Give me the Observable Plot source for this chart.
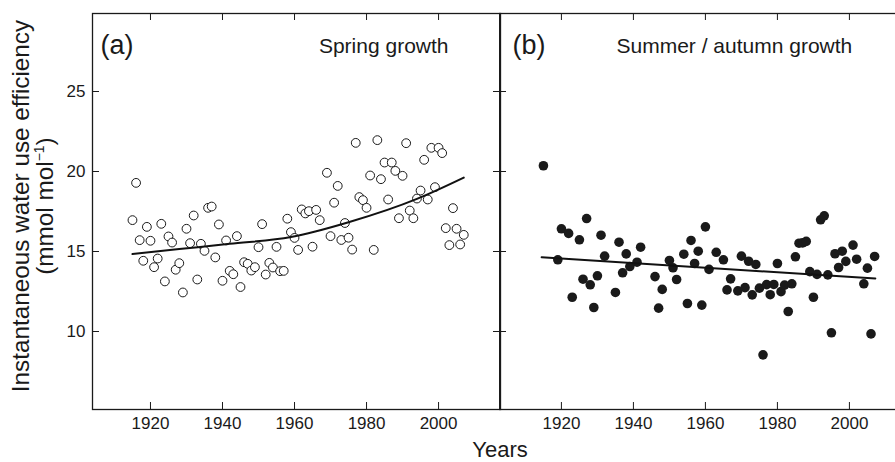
<!DOCTYPE html>
<html><head><meta charset="utf-8">
<script src="https://cdn.jsdelivr.net/npm/d3@7"></script>
<script src="https://cdn.jsdelivr.net/npm/@observablehq/plot@0.6"></script>
<style>
body{margin:0;background:#fff;}
#wrap{position:relative;width:895px;height:462px;overflow:hidden;font-family:"Liberation Sans",Arial,sans-serif;color:#1a1a1a;background:#fff;}
#left{position:absolute;left:0;top:0;width:500px;height:462px;}
#right{position:absolute;left:499px;top:0;width:396px;height:462px;overflow:hidden;}
#wrap svg{max-width:none !important;height:462px !important;}
#ylab{position:absolute;left:-176px;top:181px;width:420px;height:50px;transform:rotate(-90deg);text-align:center;font-size:24.3px;line-height:24px;white-space:nowrap;}
#ylab sup{font-size:14px;line-height:0;vertical-align:9px;}
#xlab{position:absolute;left:400px;top:439px;width:200px;text-align:center;font-size:22px;line-height:22px;}
</style>
</head><body>
<div id="wrap">
  <div id="left"></div>
  <div id="right"></div>
  <div id="ylab">Instantaneous water use efficiency<br>(mmol mol<sup>−1</sup>)</div>
  <div id="xlab">Years</div>
</div>
<script>
// ---- data ----
const yearsA = [1915,1916,1917,1918,1919,1920,1921,1922,1923,1924,1925,1926,1927,1928,1929,1930,1931,1932,1933,1934,1935,1936,1937,1938,1939,1940,1941,1942,1943,1944,1945,1946,1947,1948,1949,1950,1951,1952,1953,1954,1955,1956,1957,1958,1959,1960,1961,1962,1963,1964,1965,1966,1967,1969,1970,1971,1972,1973,1974,1975,1976,1977,1978,1979,1980,1981,1982,1983,1984,1985,1986,1987,1988,1989,1990,1991,1992,1993,1994,1995,1996,1997,1998,1999,2000,2001,2002,2003,2004,2005,2006,2007];
const wueA = [16.96,19.29,15.71,14.42,16.54,15.67,14.02,14.56,16.73,13.13,15.94,15.56,13.86,14.27,12.44,16.42,15.52,17.25,13.25,15.48,15.04,17.73,17.81,14.63,16.69,13.17,15.69,13.79,13.58,15.96,12.78,14.33,14.23,13.81,14.02,15.27,16.71,13.56,14.29,14.00,15.29,13.77,13.79,17.05,16.21,15.85,15.10,17.63,17.38,17.52,15.30,17.60,16.96,19.92,15.96,18.05,19.10,15.72,16.78,15.86,15.12,21.79,18.40,18.21,17.73,19.75,15.10,21.96,19.52,20.56,18.25,20.56,20.04,17.08,19.73,21.77,17.56,17.08,18.31,18.81,20.73,18.25,21.48,19.02,21.48,21.15,16.46,15.40,17.71,16.42,15.44,16.04];
const fitYearsA = [1915,1928,1942,1959,1975,1994,2007];
const fitA = [14.84,15.15,15.48,15.90,16.83,18.29,19.62];

const yearsB = [1915,1919,1920,1922,1923,1925,1926,1927,1928,1929,1930,1931,1932,1935,1936,1937,1938,1939,1941,1942,1946,1947,1948,1950,1951,1952,1954,1955,1956,1957,1958,1959,1960,1961,1963,1965,1966,1967,1969,1970,1971,1972,1973,1974,1975,1976,1977,1978,1979,1980,1981,1982,1983,1984,1985,1986,1987,1988,1989,1990,1991,1992,1993,1994,1995,1996,1997,1998,1999,2001,2002,2004,2005,2006,2007];
const wueB = [20.36,14.48,16.42,16.13,12.14,15.73,13.27,17.06,12.92,11.50,13.48,16.02,14.71,12.44,15.58,13.67,14.85,14.06,14.33,15.27,13.43,11.46,12.63,14.44,13.98,13.25,14.83,11.75,15.69,14.25,15.02,11.65,16.54,13.88,14.95,14.48,12.60,13.29,12.54,14.71,12.74,14.39,12.29,14.19,12.71,8.54,12.93,12.30,12.94,14.25,12.49,12.90,11.25,12.98,14.67,15.52,15.54,15.63,13.74,12.14,13.57,16.98,17.23,13.54,9.92,14.86,14.00,15.02,14.38,15.40,14.52,12.98,13.96,9.85,14.69];
const fitYearsB = [1914.5,2007.2];
const fitB = [14.64,13.31];

const xTicks = [1920,1940,1960,1980,2000];
const yTicks = [10,15,20,25];
const panelLetters = ["(a)","(b)"];
const panelTitles = ["Spring growth","Summer / autumn growth"];

// ---- helpers ----
const ink = "#1a1a1a";
const font = "'Liberation Sans',Arial,sans-serif";
const pts = (xs, ys) => xs.map((x, i) => ({year: x, v: ys[i]}));
const dataA = pts(yearsA, wueA), curveA = pts(fitYearsA, fitA);
const dataB = pts(yearsB, wueB), curveB = pts(fitYearsB, fitB);
const yDomain = [5.125, 29.875];
const H = 462, mT = 13, mB = 53, TICK = 7;
const fmt = d => String(d);

// ---- panel (a) ----
const wA = 500, mLA = 92;
const innerWA = wA - mLA, innerH = H - mT - mB;
const plotA = Plot.plot({
  width: wA, height: H, marginLeft: mLA, marginRight: 0, marginTop: mT, marginBottom: mB,
  style: {fontFamily: font, color: ink, background: "transparent", overflow: "visible"},
  x: {domain: [1903.9, 2017.2], axis: null},
  y: {domain: yDomain, axis: null},
  marks: [
    Plot.frame({stroke: ink, strokeWidth: 1.3}),
    Plot.ruleX(xTicks, {x: d => d, insetBottom: innerH - TICK, stroke: ink}),
    Plot.ruleX(xTicks, {x: d => d, insetTop: innerH - TICK, stroke: ink}),
    Plot.ruleY(yTicks, {y: d => d, insetRight: innerWA - TICK, stroke: ink}),
    Plot.ruleY(yTicks, {y: d => d, insetLeft: innerWA - TICK, stroke: ink}),
    Plot.axisX(xTicks, {anchor: "bottom", tickSize: 0, tickPadding: 7, fontSize: 17, tickFormat: fmt, label: null}),
    Plot.axisY(yTicks, {anchor: "left", tickSize: 0, tickPadding: 7, fontSize: 17, tickFormat: fmt, label: null}),
    Plot.dot(dataA, {x: "year", y: "v", r: 4.4, stroke: ink, strokeWidth: 1, fill: "white"}),
    Plot.line(curveA, {x: "year", y: "v", curve: "monotone-x", stroke: "#111", strokeWidth: 2}),
    Plot.text([panelLetters[0]], {text: d => d, frameAnchor: "top-left", dx: 8, dy: 32, fontSize: 27, textAnchor: "start", lineAnchor: "middle", fill: ink}),
    Plot.text([panelTitles[0]], {text: d => d, frameAnchor: "top-right", dx: -52, dy: 33, fontSize: 21, textAnchor: "end", lineAnchor: "middle", fill: ink})
  ]
});
document.getElementById("left").appendChild(plotA);

// ---- panel (b) ----
const wB = 430;
const plotB = Plot.plot({
  width: wB, height: H, marginLeft: 0, marginRight: 0, marginTop: mT, marginBottom: mB,
  style: {fontFamily: font, color: ink, background: "transparent", overflow: "visible"},
  x: {domain: [1902.8, 1902.8 + wB / 3.6], axis: null},
  y: {domain: yDomain, axis: null},
  marks: [
    Plot.frame({stroke: ink, strokeWidth: 1.3}),
    Plot.ruleX(xTicks, {x: d => d, insetBottom: innerH - TICK, stroke: ink}),
    Plot.ruleX(xTicks, {x: d => d, insetTop: innerH - TICK, stroke: ink}),
    Plot.ruleY(yTicks, {y: d => d, insetRight: wB - TICK, stroke: ink}),
    Plot.axisX(xTicks, {anchor: "bottom", tickSize: 0, tickPadding: 7, fontSize: 17, tickFormat: fmt, label: null}),
    Plot.dot(dataB, {x: "year", y: "v", r: 4.8, fill: ink, stroke: "none"}),
    Plot.line(curveB, {x: "year", y: "v", stroke: "#111", strokeWidth: 2}),
    Plot.text([panelLetters[1]], {text: d => d, frameAnchor: "top-left", dx: 13, dy: 32, fontSize: 27, textAnchor: "start", lineAnchor: "middle", fill: ink}),
    Plot.text([panelTitles[1]], {text: d => d, frameAnchor: "top-left", dx: 117, dy: 33, fontSize: 21, textAnchor: "start", lineAnchor: "middle", fill: ink})
  ]
});
document.getElementById("right").appendChild(plotB);
</script>
</body></html>
